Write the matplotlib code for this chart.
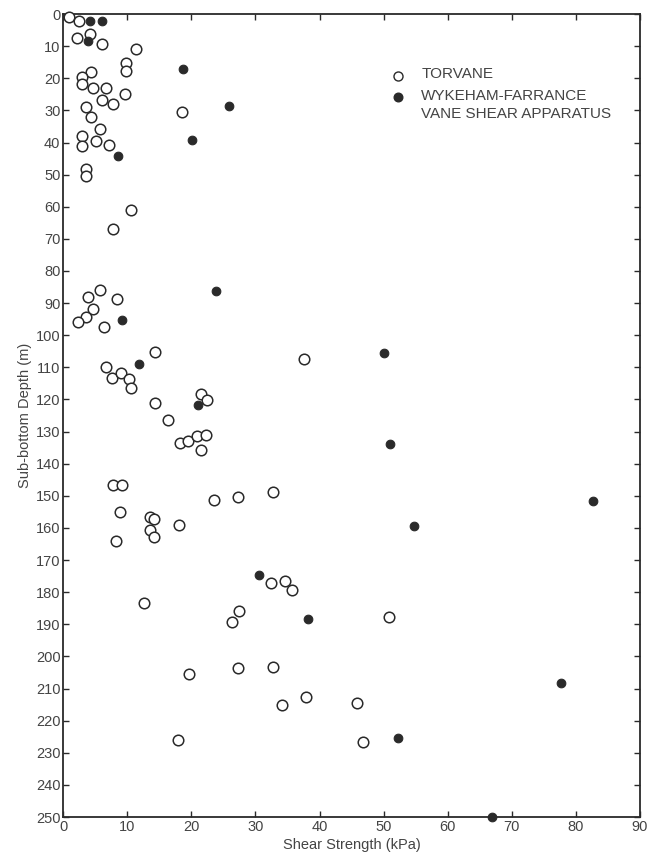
import matplotlib
matplotlib.use("Agg")
import matplotlib.pyplot as plt

# Torvane (open circles): shear strength (kPa), depth (m)
torvane_kpa = [0.9, 2.4, 4.2, 2.1, 6.0, 11.4, 9.8, 9.8, 4.3, 3.0, 3.0, 4.6, 6.7, 9.7,
               6.0, 7.8, 3.5, 18.5, 4.3, 5.8, 3.0, 5.1, 3.0, 7.2, 3.5, 3.5,
               10.5, 7.7, 5.7, 3.9, 8.4, 4.7, 3.6, 2.3, 6.4, 14.3, 37.5, 6.7,
               7.6, 9.0, 10.2, 10.5, 14.3, 21.5, 22.5, 16.3, 18.2, 19.4, 20.9, 22.3, 21.5,
               7.8, 9.2, 8.8, 8.3, 13.5, 14.2, 13.6, 14.1, 18.1, 23.5, 27.3, 32.8,
               12.6, 32.4, 34.6, 35.7, 27.4, 26.4, 19.6, 27.3, 32.7, 34.2, 37.9,
               50.9, 45.8, 17.9, 46.8]
torvane_depth = [1.0, 2.2, 6.3, 7.4, 9.2, 10.8, 15.2, 17.6, 18.0, 19.7, 21.8, 23.1, 23.0, 25.0,
                 26.8, 28.1, 29.0, 30.5, 32.2, 35.7, 38.0, 39.4, 41.1, 40.9, 48.4, 50.4,
                 61.1, 67.0, 85.8, 88.2, 88.7, 91.9, 94.4, 96.0, 97.3, 105.3, 107.4, 109.9,
                 113.4, 111.9, 113.5, 116.4, 121.2, 118.2, 120.2, 126.5, 133.5, 132.8, 131.4, 131.1, 135.8,
                 146.7, 146.6, 154.9, 164.2, 156.5, 157.3, 160.6, 162.9, 159.0, 151.2, 150.3, 148.9,
                 183.5, 177.2, 176.6, 179.4, 185.9, 189.3, 205.4, 203.7, 203.4, 215.1, 212.6,
                 187.6, 214.6, 226.0, 226.6]

# Wykeham-Farrance vane shear apparatus (filled circles)
wf_kpa = [4.1, 6.1, 3.8, 18.7, 25.8, 20.1, 8.6, 23.9, 9.2, 11.8, 21.0,
          30.6, 38.2, 50.0, 51.0, 82.7, 54.8, 77.7, 52.2, 66.9]
wf_depth = [2.1, 2.1, 8.4, 17.0, 28.7, 39.3, 44.1, 86.2, 95.2, 109.1, 121.6,
            174.6, 188.5, 105.6, 133.9, 151.5, 159.4, 208.2, 225.3, 250.0]

xticks = list(range(0, 91, 10))
yticks = list(range(0, 251, 10))
legend_lines = ["TORVANE", "WYKEHAM-FARRANCE", "VANE SHEAR APPARATUS"]

ink = "#2a2a2a"
txt = "#444444"
plt.rcParams["font.family"] = ["Liberation Sans", "DejaVu Sans"]

fig = plt.figure(figsize=(6.51, 8.55), dpi=100)
ax = fig.add_axes([0.0972, 0.0444, 0.8858, 0.9392])

ax.plot(torvane_kpa, torvane_depth, "o", ms=7.6, mfc="white", mec=ink, mew=1.1,
        linestyle="none", clip_on=False, zorder=3)
ax.plot(wf_kpa, wf_depth, "o", ms=6.2, mfc=ink, mec=ink, mew=0.8,
        linestyle="none", clip_on=False, zorder=4)

ax.set_xlim(0, 90)
ax.set_ylim(250, 0)
ax.set_xticks(xticks)
ax.set_yticks(yticks)
ax.tick_params(direction="in", top=True, right=True, length=4, width=1,
               color=ink, labelsize=10.5, labelcolor=txt)
ax.tick_params(axis="y", pad=2)
ax.tick_params(axis="x", pad=2)
for s in ax.spines.values():
    s.set_color(ink)
    s.set_linewidth(1.3)

ax.set_xlabel("Shear Strength (kPa)", fontsize=10.5, color=txt, labelpad=3)
ax.set_ylabel("Sub-bottom Depth (m)", fontsize=10.5, color=txt, labelpad=3)

# legend drawn as markers + text in axes coordinates
ax.plot([0.581], [0.9228], "o", transform=ax.transAxes, ms=6.5, mfc="white",
        mec=ink, mew=1.0, clip_on=False)
ax.plot([0.581], [0.897], "o", transform=ax.transAxes, ms=6.2, mfc=ink,
        mec=ink, clip_on=False)
for yy, line in zip([0.9253, 0.8979, 0.8755], legend_lines):
    ax.text(0.621, yy, line, transform=ax.transAxes, fontsize=11,
            color=txt, va="center")

fig.savefig("out.png", dpi=100)
